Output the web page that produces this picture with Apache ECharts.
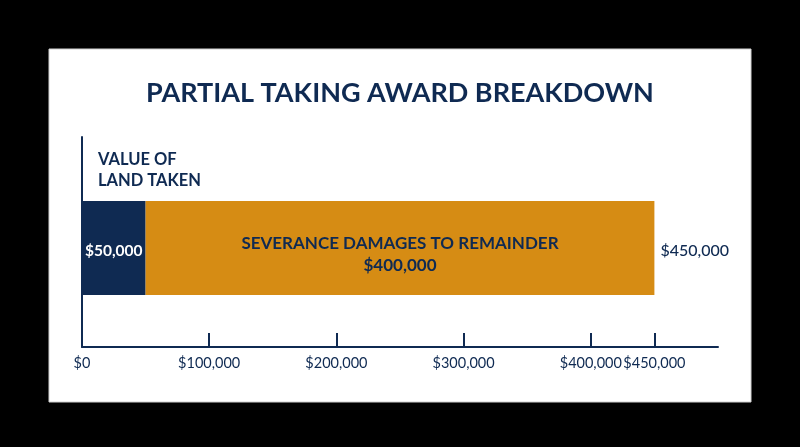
<!DOCTYPE html>
<html><head><meta charset="utf-8">
<script src="https://cdn.jsdelivr.net/npm/echarts@6/dist/echarts.min.js"></script>
<style>html,body{margin:0;padding:0;background:#000;}#c{width:800px;height:447px;}</style>
</head><body><div id="c"></div>
<script>
const titleText = 'PARTIAL TAKING AWARD BREAKDOWN';
const categories = ['Award'];
const landTaken = [50000];
const severance = [400000];
const tickValues = [100000, 200000, 300000, 400000, 450000];
const labelValues = [0, 100000, 200000, 300000, 400000, 450000];
const landLabel = 'VALUE OF\nLAND TAKEN';
const severanceLabel = 'SEVERANCE DAMAGES TO REMAINDER';
const total = [landTaken[0] + severance[0]];

const NAVY = '#0f2a52', ORANGE = '#d68c14';
const fmt = v => '$' + Number(v).toLocaleString('en-US');
const FONT = 'Lato';

const chart = echarts.init(document.getElementById('c'), null, {renderer: 'canvas'});
chart.setOption({
  backgroundColor: '#000',
  animation: false,
  graphic: [{type: 'rect', shape: {x: 49, y: 49, width: 702, height: 353}, style: {fill: '#fff', stroke: '#d0d0d0', lineWidth: 1}, z: -10}],
  title: [
    {text: titleText, left: 'center', top: 75, textStyle: {fontFamily: FONT, fontWeight: 'bold', fontSize: 27, color: NAVY}},
    {text: landLabel, left: 93, top: 144, textStyle: {fontFamily: FONT, fontWeight: 'bold', fontSize: 16.5, lineHeight: 21, color: NAVY}}
  ],
  grid: [
    {left: 82, right: 82, top: 201, bottom: 152, containLabel: false},
    {left: 82, right: 82, top: 137, bottom: 100, containLabel: false}
  ],
  xAxis: [
    {type: 'value', gridIndex: 0, min: 0, max: 500000, show: false},
    {type: 'value', gridIndex: 1, min: 0, max: 500000,
     splitLine: {show: false},
     axisLine: {show: true, lineStyle: {color: NAVY, width: 2}},
     axisTick: {show: true, inside: true, length: 14, customValues: tickValues, lineStyle: {color: NAVY, width: 2}},
     axisLabel: {customValues: labelValues, formatter: fmt, margin: 9, hideOverlap: false, fontFamily: FONT, fontSize: 14.5, color: NAVY}}
  ],
  yAxis: [
    {type: 'category', gridIndex: 0, data: categories, show: false},
    {type: 'value', gridIndex: 1, min: 0, max: 1,
     axisLine: {show: true, lineStyle: {color: NAVY, width: 2}},
     axisTick: {show: false}, axisLabel: {show: false}, splitLine: {show: false}}
  ],
  series: [
    {type: 'bar', name: 'Land', stack: 's', xAxisIndex: 0, yAxisIndex: 0, data: landTaken, barWidth: '100%',
     itemStyle: {color: NAVY},
     label: {show: true, position: 'inside', offset: [0, 3], formatter: p => fmt(p.value), color: '#fff', fontFamily: FONT, fontSize: 15.5, fontWeight: 'bold'}},
    {type: 'bar', name: 'Severance', stack: 's', xAxisIndex: 0, yAxisIndex: 0, data: severance, barWidth: '100%',
     itemStyle: {color: ORANGE},
     label: {show: true, position: 'inside', offset: [0, 7], formatter: p => severanceLabel + '\n' + fmt(p.value), color: NAVY, fontFamily: FONT, fontSize: 17, fontWeight: 'bold', lineHeight: 22, align: 'center'}},
    {type: 'bar', name: 'Total', stack: 's', xAxisIndex: 0, yAxisIndex: 0, data: [0], barWidth: '100%',
     itemStyle: {color: 'transparent'},
     label: {show: true, position: 'right', distance: 6, offset: [0, 3], formatter: () => fmt(total[0]), color: NAVY, fontFamily: FONT, fontSize: 16, fontWeight: 500}}
  ]
});
</script></body></html>
